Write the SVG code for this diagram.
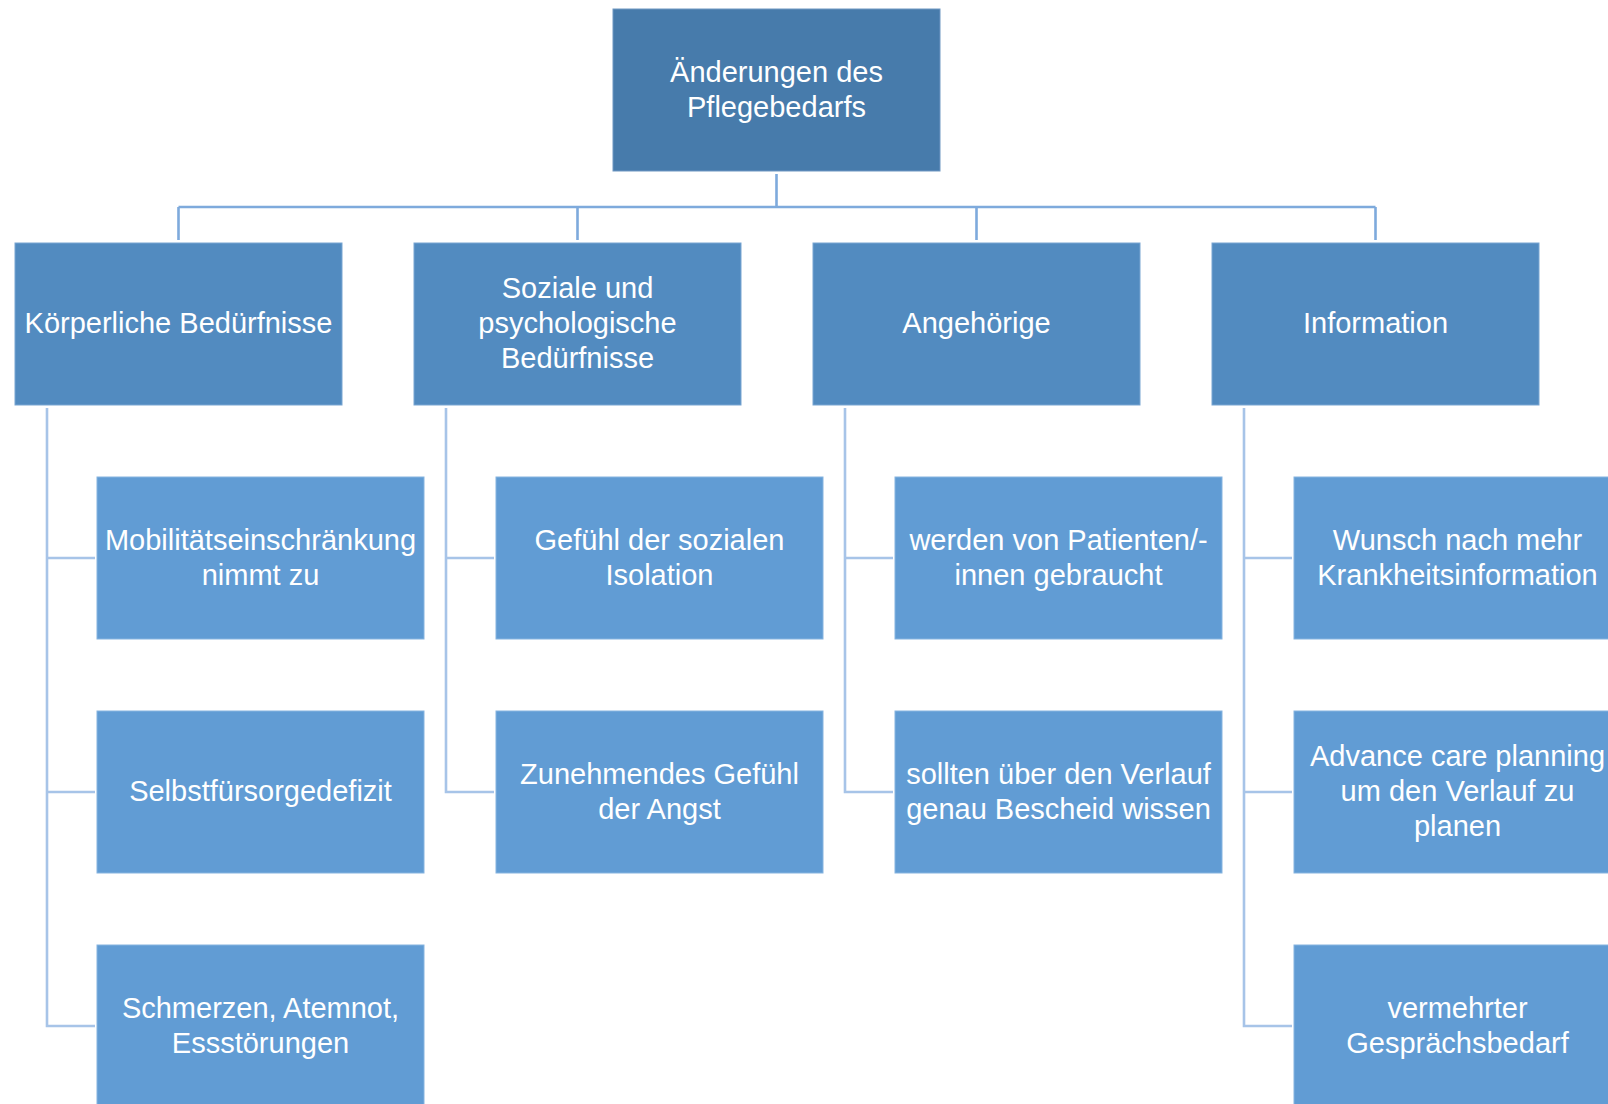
<svg xmlns="http://www.w3.org/2000/svg" width="1608" height="1104" viewBox="0 0 1608 1104">
<style>
text{font-family:"Liberation Sans",Arial,sans-serif;font-size:29px;fill:#ffffff;text-anchor:middle}
.top{fill:#477BAB;stroke:#6F97C2;stroke-width:1}
.l2{fill:#528BC0;stroke:#79A5D2;stroke-width:1}
.l3{fill:#619CD4;stroke:#86B4E0;stroke-width:1}
.c1{stroke:#7EAADC;stroke-width:2.6;fill:none}
.c2{stroke:#A7C4E8;stroke-width:2.6;fill:none}
</style>
<rect width="1608" height="1104" fill="#ffffff"/>
<g id="connectors">
<path class="c1" d="M776.5 174V207M178.5 207H1375.5M178.5 207V240M577.5 207V240M976.5 207V240M1375.5 207V240"/>
<path class="c2" d="M47 408V1026H95M47 558H95M47 792H95"/>
<path class="c2" d="M446 408V792H494M446 558H494"/>
<path class="c2" d="M845 408V792H893M845 558H893"/>
<path class="c2" d="M1244 408V1026H1292M1244 558H1292M1244 792H1292"/>
</g>
<g id="root"><rect class="top" x="613" y="9" width="327" height="162"/><text x="776.5" y="81.5">Änderungen des</text><text x="776.5" y="116.5">Pflegebedarfs</text></g>
<g id="koerper"><rect class="l2" x="15" y="243" width="327" height="162"/><text x="178.5" y="332.5">Körperliche Bedürfnisse</text></g>
<g id="sozial"><rect class="l2" x="414" y="243" width="327" height="162"/><text x="577.5" y="297.5">Soziale und</text><text x="577.5" y="332.5">psychologische</text><text x="577.5" y="367.5">Bedürfnisse</text></g>
<g id="angehoerige"><rect class="l2" x="813" y="243" width="327" height="162"/><text x="976.5" y="332.5">Angehörige</text></g>
<g id="information"><rect class="l2" x="1212" y="243" width="327" height="162"/><text x="1375.5" y="332.5">Information</text></g>
<g id="mobil"><rect class="l3" x="97" y="477" width="327" height="162"/><text x="260.5" y="549.5">Mobilitätseinschränkung</text><text x="260.5" y="584.5">nimmt zu</text></g>
<g id="selbst"><rect class="l3" x="97" y="711" width="327" height="162"/><text x="260.5" y="801">Selbstfürsorgedefizit</text></g>
<g id="schmerz"><rect class="l3" x="97" y="945" width="327" height="162"/><text x="260.5" y="1017.5">Schmerzen, Atemnot,</text><text x="260.5" y="1052.5">Essstörungen</text></g>
<g id="isolation"><rect class="l3" x="496" y="477" width="327" height="162"/><text x="659.5" y="549.5">Gefühl der sozialen</text><text x="659.5" y="584.5">Isolation</text></g>
<g id="angst"><rect class="l3" x="496" y="711" width="327" height="162"/><text x="659.5" y="783.5">Zunehmendes Gefühl</text><text x="659.5" y="818.5">der Angst</text></g>
<g id="gebraucht"><rect class="l3" x="895" y="477" width="327" height="162"/><text x="1058.5" y="549.5">werden von Patienten/-</text><text x="1058.5" y="584.5">innen gebraucht</text></g>
<g id="bescheid"><rect class="l3" x="895" y="711" width="327" height="162"/><text x="1058.5" y="783.5">sollten über den Verlauf</text><text x="1058.5" y="818.5">genau Bescheid wissen</text></g>
<g id="wunsch"><rect class="l3" x="1294" y="477" width="327" height="162"/><text x="1457.5" y="549.5">Wunsch nach mehr</text><text x="1457.5" y="584.5">Krankheitsinformation</text></g>
<g id="advance"><rect class="l3" x="1294" y="711" width="327" height="162"/><text x="1457.5" y="766">Advance care planning</text><text x="1457.5" y="801">um den Verlauf zu</text><text x="1457.5" y="836">planen</text></g>
<g id="gespraech"><rect class="l3" x="1294" y="945" width="327" height="162"/><text x="1457.5" y="1017.5">vermehrter</text><text x="1457.5" y="1052.5">Gesprächsbedarf</text></g>
</svg>
